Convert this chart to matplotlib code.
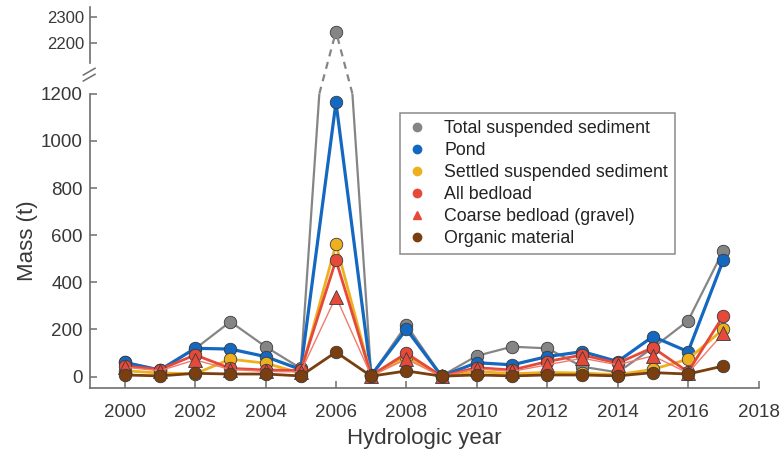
import matplotlib
matplotlib.use("Agg")
import matplotlib.pyplot as plt
from matplotlib.lines import Line2D

plt.rcParams['font.family'] = ['Liberation Sans', 'DejaVu Sans']

# Annual sediment masses (tonnes) by hydrologic year
years = list(range(2000, 2018))
total_suspended = [62, 28, 118, 233, 127, 35, 2244, 5, 219, 3, 88, 127, 120, 42, 18, 122, 237, 534]
pond = [60, 28, 120, 117, 85, 30, 1163, 5, 201, 2, 59, 50, 85, 106, 64, 170, 106, 494]
settled_suspended = [25, 15, 12, 74, 57, 15, 562, 3, 85, 1, 22, 12, 18, 15, 8, 31, 74, 201]
all_bedload = [45, 30, 92, 35, 28, 26, 494, 5, 99, 2, 38, 28, 64, 92, 57, 123, 20, 258]
coarse_bedload = [40, 25, 71, 30, 22, 20, 339, 3, 74, 1, 33, 22, 50, 78, 50, 88, 15, 184]
organic = [7, 3, 14, 11, 11, 3, 104, 2, 24, 2, 7, 3, 7, 7, 3, 17, 11, 45]

main_yticks = [0, 200, 400, 600, 800, 1000, 1200]
top_yticks = [2200, 2300]
xticks = list(range(2000, 2019, 2))

C_GRAY = '#858585'
C_BLUE = '#1468C0'
C_YELLOW = '#EDB120'
C_RED = '#E5493A'
C_RED_LIGHT = '#EE7C6E'
C_BROWN = '#7A3E0F'
EDGE = '#3a3a3a'
AXC = '#6e6e6e'
TXT = '#383838'

W, H = 784, 450
fig = plt.figure(figsize=(W / 100, H / 100), dpi=100)

def px_axes(left, top, right, bottom):
    return fig.add_axes([left / W, 1 - bottom / H, (right - left) / W, (bottom - top) / H])

ax = px_axes(89.5, 93.7, 758.5, 387.7)
ax_top = px_axes(89.5, 7.3, 758.5, 63.0)

ax.set_xlim(1999, 2018)
ax.set_ylim(-47, 1200)
ax_top.set_xlim(1999, 2018)
ax_top.set_ylim(2126, 2335)

series = [
    (total_suspended, C_GRAY, 'o', 1.6, 9),
    (pond, C_BLUE, 'o', 2.3, 9),
    (settled_suspended, C_YELLOW, 'o', 2.0, 9),
    (all_bedload, C_RED, 'o', 2.0, 9),
    (coarse_bedload, C_RED_LIGHT, '^', 1.0, 9.5),
    (organic, C_BROWN, 'o', 2.0, 9),
]
for vals, col, mk, lw, ms in series:
    mfc = C_RED if mk == '^' else col
    ax.plot(years, vals, color=col, lw=lw, marker=mk, ms=ms,
            mfc=mfc, mec=EDGE, mew=0.6, clip_on=True)

# Peak value shown on the upper (broken) axis
i_peak = years.index(2006)
ax_top.plot([years[i_peak]], [total_suspended[i_peak]], marker='o', ms=9,
            color=C_GRAY, mec=EDGE, mew=0.6, ls='none')

# Dashed connectors across the axis break
inv = fig.transFigure.inverted()
peak_disp = ax_top.transData.transform((years[i_peak], total_suspended[i_peak]))
ymax = ax.get_ylim()[1]
for j in (i_peak - 1, i_peak + 1):
    x0, y0 = years[j], total_suspended[j]
    x1, y1 = years[i_peak], total_suspended[i_peak]
    t = (ymax - y0) / (y1 - y0)
    xa = x0 + t * (x1 - x0)
    a = inv.transform(ax.transData.transform((xa, ymax)))
    b = inv.transform(peak_disp)
    fig.add_artist(Line2D([a[0], b[0]], [a[1], b[1]], transform=fig.transFigure,
                          color=C_GRAY, lw=1.6, ls=(0, (3.2, 2.6)), zorder=1))

# Axis styling
for a_ in (ax, ax_top):
    for s in ('top', 'right'):
        a_.spines[s].set_visible(False)
    a_.spines['left'].set_color(AXC)
    a_.spines['left'].set_linewidth(1.2)
    a_.tick_params(axis='y', direction='in', length=5, width=1.1, color=AXC,
                   labelcolor=TXT)
ax.spines['bottom'].set_color(AXC)
ax.spines['bottom'].set_linewidth(1.2)
ax.tick_params(axis='x', direction='in', length=5, width=1.1, color=AXC,
               labelcolor=TXT, labelsize=13.5, pad=12)
ax.tick_params(axis='y', labelsize=13.5, pad=5)
ax.set_yticks(main_yticks)
ax.set_xticks(xticks)

ax_top.spines['bottom'].set_visible(False)
ax_top.set_xticks([])
ax_top.set_yticks(top_yticks)
ax_top.tick_params(axis='y', labelsize=12, pad=4)
ax_top.patch.set_alpha(0)

# Break marks on the y axis
for (xa_, ya_), (xb_, yb_) in [((83.3, 75.0), (95.0, 68.3)), ((83.3, 81.0), (95.0, 74.3))]:
    fig.add_artist(Line2D([xa_ / W, xb_ / W], [1 - ya_ / H, 1 - yb_ / H],
                          transform=fig.transFigure, color=AXC, lw=1.1))

ax.set_xlabel('Hydrologic year', fontsize=16, color=TXT, labelpad=5)
ax.set_ylabel('Mass (t)', fontsize=16, color=TXT, labelpad=2)

labels = ['Total suspended sediment', 'Pond', 'Settled suspended sediment',
          'All bedload', 'Coarse bedload (gravel)', 'Organic material']
handle_specs = [(C_GRAY, 'o'), (C_BLUE, 'o'), (C_YELLOW, 'o'),
                (C_RED, 'o'), (C_RED, '^'), (C_BROWN, 'o')]
handles = [Line2D([], [], ls='none', marker=m, ms=6, mfc=c, mec=c)
           for c, m in handle_specs]
leg = ax.legend(handles, labels, loc='upper left',
                bbox_to_anchor=(0.464, 0.934), fontsize=12.8, frameon=True,
                fancybox=False, edgecolor=AXC, handlelength=1.2,
                handletextpad=0.9, labelspacing=0.28, borderpad=0.38,
                borderaxespad=0)
leg.get_frame().set_linewidth(1.1)
for t_ in leg.get_texts():
    t_.set_color('#222222')

fig.savefig('out.png', dpi=100)
